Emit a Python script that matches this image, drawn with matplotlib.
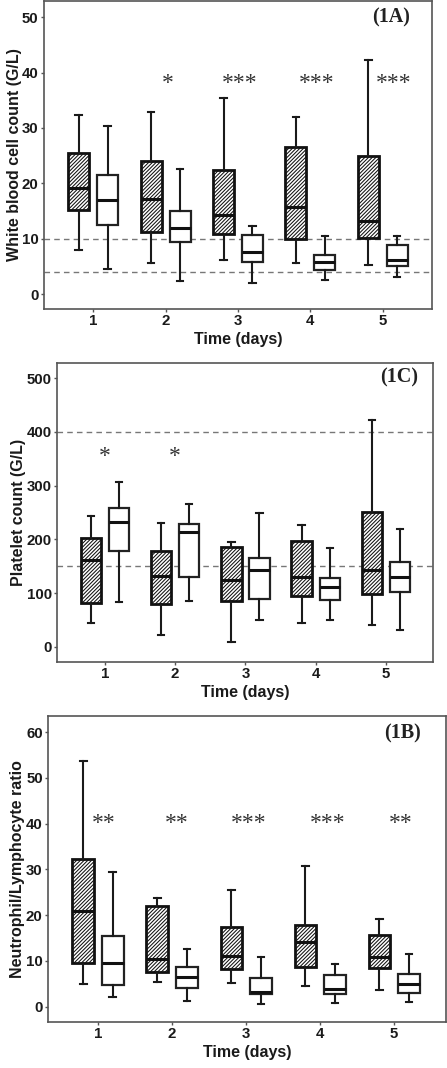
import matplotlib
matplotlib.use("Agg")
import matplotlib.pyplot as plt

plt.rcParams["hatch.linewidth"] = 0.75
plt.rcParams["hatch.color"] = "#4a4a4a"

days = [1, 2, 3, 4, 5]
x_ticks = ["1", "2", "3", "4", "5"]

# ---- Panel 1A: White blood cell count (G/L) ----
wbc_pat_low = [8.0, 5.6, 6.1, 5.6, 5.2]
wbc_pat_q1 = [15.2, 11.2, 10.9, 10.0, 10.2]
wbc_pat_med = [19.1, 17.1, 14.2, 15.8, 13.1]
wbc_pat_q3 = [25.4, 24.0, 22.4, 26.5, 24.9]
wbc_pat_high = [32.4, 32.9, 35.4, 32.0, 42.3]
wbc_ctl_low = [4.6, 2.4, 1.9, 2.5, 3.1]
wbc_ctl_q1 = [12.5, 9.4, 5.8, 4.4, 5.0]
wbc_ctl_med = [17.0, 12.0, 7.6, 5.8, 6.2]
wbc_ctl_q3 = [21.5, 15.0, 10.6, 7.0, 8.8]
wbc_ctl_high = [30.3, 22.6, 12.3, 10.5, 10.4]
wbc_refs = [10, 4]
wbc_sig = ["", "*", "***", "***", "***"]
wbc_yticks = [0, 10, 20, 30, 40, 50]

# ---- Panel 1C: Platelet count (G/L) ----
plt_pat_low = [45, 22, 10, 45, 41]
plt_pat_q1 = [82, 80, 86, 95, 99]
plt_pat_med = [161, 132, 125, 130, 143]
plt_pat_q3 = [203, 178, 186, 198, 251]
plt_pat_high = [243, 231, 195, 227, 422]
plt_ctl_low = [83, 85, 50, 50, 32]
plt_ctl_q1 = [178, 130, 90, 87, 103]
plt_ctl_med = [233, 213, 143, 112, 130]
plt_ctl_q3 = [258, 229, 165, 128, 158]
plt_ctl_high = [307, 265, 250, 184, 219]
plt_refs = [400, 150]
plt_sig = ["*", "*", "", "", ""]
plt_yticks = [0, 100, 200, 300, 400, 500]

# ---- Panel 1B: Neutrophil/Lymphocyte ratio ----
nlr_pat_low = [5.0, 5.3, 5.2, 4.6, 3.6]
nlr_pat_q1 = [9.5, 7.5, 8.3, 8.6, 8.4]
nlr_pat_med = [20.9, 10.5, 11.1, 14.2, 10.8]
nlr_pat_q3 = [32.3, 21.9, 17.4, 17.8, 15.6]
nlr_pat_high = [53.7, 23.7, 25.5, 30.8, 19.2]
nlr_ctl_low = [2.2, 1.2, 0.65, 0.8, 1.0]
nlr_ctl_q1 = [4.8, 4.0, 2.8, 2.8, 3.05]
nlr_ctl_med = [9.6, 6.4, 3.3, 3.8, 4.9]
nlr_ctl_q3 = [15.4, 8.6, 6.2, 6.9, 7.1]
nlr_ctl_high = [29.5, 12.7, 10.9, 9.4, 11.4]
nlr_sig = ["**", "**", "***", "***", "**"]
nlr_yticks = [0, 10, 20, 30, 40, 50, 60]

SANS = "Liberation Sans"
SERIF = "Liberation Serif"
FRAME = "#555555"
TXT = "#1a1a1a"


def stats(low, q1, med, q3, high):
    return [dict(whislo=a, q1=b, med=c, q3=d, whishi=e, fliers=[])
            for a, b, c, d, e in zip(low, q1, med, q3, high)]


def panel(fig, rect, pat, ctl, refs, sig, sig_y, sig_dx, yticks, ylim, xlim,
          ylabel, ylabel_x, tag, tag_xy, star_size):
    ax = fig.add_axes(rect)
    common = dict(widths=0.29, patch_artist=True, showfliers=False,
                  manage_ticks=False,
                  whiskerprops=dict(color="#1a1a1a", lw=1.5),
                  capprops=dict(color="#1a1a1a", lw=1.5),
                  medianprops=dict(color="#111111", lw=2.2))
    b1 = ax.bxp(stats(*pat), positions=[d - 0.2 for d in days],
                boxprops=dict(facecolor="white", edgecolor="#111111", lw=2.0,
                              hatch="/////////"), **common)
    b2 = ax.bxp(stats(*ctl), positions=[d + 0.2 for d in days],
                boxprops=dict(facecolor="white", edgecolor="#222222", lw=1.6),
                **common)
    for bp in (b1, b2):
        for c in bp["caps"]:
            xd = c.get_xdata()
            m = (xd[0] + xd[1]) / 2
            c.set_xdata([m - 0.045, m + 0.045])
    for r in refs:
        ax.axhline(r, color="#777777", lw=1.0, ls=(0, (4, 3)), zorder=0.5)
    for d, s, dx in zip(days, sig, sig_dx):
        if s:
            ax.text(d + dx, sig_y, s, ha="center", va="center",
                    fontsize=star_size, family=SERIF, color="#333333")
    ax.set_xlim(*xlim)
    ax.set_ylim(*ylim)
    ax.set_xticks(days)
    ax.set_xticklabels(x_ticks)
    ax.set_yticks(yticks)
    for lab in ax.get_xticklabels() + ax.get_yticklabels():
        lab.set_fontfamily(SANS)
        lab.set_fontweight("bold")
        lab.set_fontsize(10.8)
        lab.set_color(TXT)
    ax.tick_params(length=2.3, width=1, color=FRAME, pad=1.5)
    for sp in ax.spines.values():
        sp.set_color(FRAME)
        sp.set_linewidth(1.2)
    ax.set_ylabel(ylabel, fontfamily=SANS, fontweight="bold", fontsize=11.5,
                  color=TXT)
    ax.yaxis.set_label_coords(ylabel_x, 0.5)
    ax.set_xlabel("Time (days)", fontfamily=SANS, fontweight="bold",
                  fontsize=11.5, labelpad=3, color=TXT)
    ax.text(tag_xy[0], tag_xy[1], tag, transform=ax.transAxes, ha="center",
            va="center", fontfamily=SERIF, fontweight="bold", fontsize=14.5,
            color="#222222")
    return ax


fig = plt.figure(figsize=(4.47, 10.68), dpi=100)

# ylabel_x: right edge of the rotated label, as a fraction of axes width
panel(fig, [0.0984, 0.7107, 0.868, 0.2883],
      (wbc_pat_low, wbc_pat_q1, wbc_pat_med, wbc_pat_q3, wbc_pat_high),
      (wbc_ctl_low, wbc_ctl_q1, wbc_ctl_med, wbc_ctl_q3, wbc_ctl_high),
      wbc_refs, wbc_sig, 38.0, [0.05, 0.03, 0.03, 0.09, 0.15],
      wbc_yticks, (-2.7, 52.9), (0.32, 5.68),
      "White blood cell count (G/L)", -(44 - 22) / 388.0,
      "(1A)", (0.894, 0.946), 17)

panel(fig, [0.1275, 0.3801, 0.841, 0.2800],
      (plt_pat_low, plt_pat_q1, plt_pat_med, plt_pat_q3, plt_pat_high),
      (plt_ctl_low, plt_ctl_q1, plt_ctl_med, plt_ctl_q3, plt_ctl_high),
      plt_refs, plt_sig, 355, [0, 0, 0, 0, 0],
      plt_yticks, (-28, 528), (0.317, 5.67),
      "Platelet count (G/L)", -(57 - 26) / 376.0,
      "(1C)", (0.91, 0.95), 17)

panel(fig, [0.1074, 0.0431, 0.8904, 0.2865],
      (nlr_pat_low, nlr_pat_q1, nlr_pat_med, nlr_pat_q3, nlr_pat_high),
      (nlr_ctl_low, nlr_ctl_q1, nlr_ctl_med, nlr_ctl_q3, nlr_ctl_high),
      [], nlr_sig, 40.0, [0.08, 0.06, 0.03, 0.1, 0.09],
      nlr_yticks, (-3.34, 63.5), (0.325, 5.70),
      "Neutrophil/Lymphocyte ratio", -(48 - 25) / 398.0,
      "(1B)", (0.89, 0.943), 17)

fig.savefig("out.png", dpi=100)
